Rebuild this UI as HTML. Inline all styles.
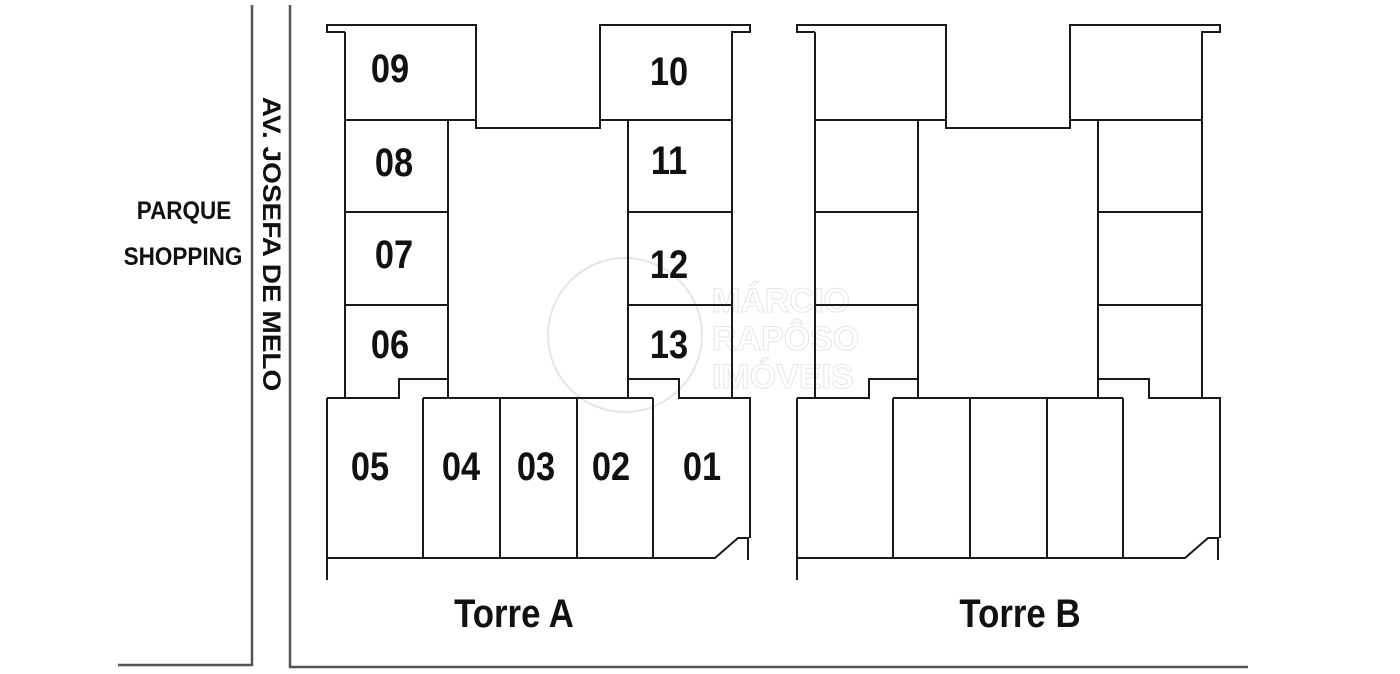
<!DOCTYPE html>
<html><head><meta charset="utf-8"><style>
html,body{margin:0;padding:0;background:#fff;width:1400px;height:674px;overflow:hidden}
svg{display:block}
text{font-family:"Liberation Sans",sans-serif;font-weight:bold;fill:#111}
</style></head><body>
<svg width="1400" height="674" viewBox="0 0 1400 674" xmlns="http://www.w3.org/2000/svg">
<g opacity="0.5">
<circle cx="625" cy="335" r="77" fill="none" stroke="#ccc" stroke-width="2"/>
<g font-family="Liberation Sans" font-weight="bold" font-size="34">
<text x="712" y="312" style="fill:#fff;stroke:#ccc">MÁRCIO</text>
<text x="712" y="350" style="fill:#fff;stroke:#ccc">RAPÔSO</text>
<text x="712" y="388" style="fill:#fff;stroke:#ccc">IMÓVEIS</text>
</g>
</g>
<g stroke="#555" stroke-width="2.5" fill="none">
<path d="M252,5 L252,665 L118,665"/>
<path d="M290,5 L290,667 L1248,667"/>
</g>
<defs>
<g id="tower" stroke="#1a1a1a" stroke-width="2" fill="none">
<path d="M345,32 L327,32 L327,25 L476,25 L476,128 L600,128 L600,25 L750,25 L750,32 L732,32 L732,398"/>
<path d="M345,32 L345,398"/>
<path d="M345,120 L476,120 M600,120 L732,120"/>
<path d="M448,120 L448,398 M628,120 L628,398"/>
<path d="M345,212 L448,212 M628,212 L732,212 M345,305 L448,305 M628,305 L732,305"/>
<path d="M327,398 L399,398 L399,379 L448,379"/>
<path d="M628,379 L679,379 L679,398 L750,398 L750,538"/>
<path d="M423,398 L653,398"/>
<path d="M327,398 L327,580"/>
<path d="M423,398 L423,558 M500,398 L500,558 M577,398 L577,558 M653,398 L653,558"/>
<path d="M327,558 L715,558 L738,538 L748,538 L748,560"/>
</g>
</defs>
<use href="#tower"/>
<use href="#tower" transform="translate(470,0)"/>
<g font-size="40" text-anchor="middle">
<text transform="translate(390,82) scale(0.86,1)">09</text>
<text transform="translate(669,85) scale(0.86,1)">10</text>
<text transform="translate(394,176) scale(0.86,1)">08</text>
<text transform="translate(669,174) scale(0.86,1)">11</text>
<text transform="translate(394,268) scale(0.86,1)">07</text>
<text transform="translate(669,278) scale(0.86,1)">12</text>
<text transform="translate(390,358) scale(0.86,1)">06</text>
<text transform="translate(669,358) scale(0.86,1)">13</text>
<text transform="translate(370,480) scale(0.86,1)">05</text>
<text transform="translate(461,480) scale(0.86,1)">04</text>
<text transform="translate(536,480) scale(0.86,1)">03</text>
<text transform="translate(611,480) scale(0.86,1)">02</text>
<text transform="translate(702,480) scale(0.86,1)">01</text>
</g>
<g font-size="40" text-anchor="middle">
<text transform="translate(514,627) scale(0.87,1)">Torre A</text>
<text transform="translate(1020,627) scale(0.87,1)">Torre B</text>
</g>
<g font-size="25" text-anchor="middle">
<text transform="translate(184,219) scale(0.9,1)">PARQUE</text>
<text transform="translate(183,265) scale(0.9,1)">SHOPPING</text>
</g>
<text font-size="25" text-anchor="middle" transform="translate(263,244) rotate(90) scale(1.12,1)">AV. JOSEFA DE MELO</text>
</svg>
</body></html>
